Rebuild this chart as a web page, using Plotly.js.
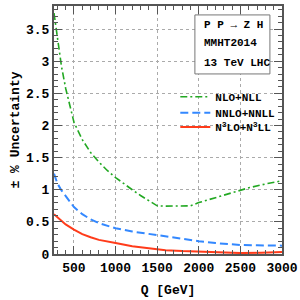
<!DOCTYPE html>
<html>
<head>
<meta charset="utf-8">
<script src="https://cdn.plot.ly/plotly-3.0.1.min.js"></script>
<style>html,body{margin:0;padding:0;background:#fff}#chart{width:300px;height:300px}</style>
</head>
<body>
<div id="chart"></div>
<script>
const seriesNames = ["NLO+NLL", "NNLO+NNLL", "N<sup>3</sup>LO+N<sup>3</sup>LL"];

const qNLO = [260, 300, 350, 400, 500, 600, 700, 800, 900, 1000, 1100, 1200, 1300, 1400, 1500, 1600, 1700, 1800, 1900, 2000, 2200, 2400, 2500, 2600, 2800, 3000];
const uNLO = [3.75, 3.35, 2.92, 2.58, 2.05, 1.78, 1.58, 1.43, 1.30, 1.19, 1.09, 1.00, 0.91, 0.83, 0.75, 0.745, 0.745, 0.745, 0.75, 0.80, 0.88, 0.96, 1.00, 1.03, 1.09, 1.14];

const qNNLO = [260, 300, 350, 400, 500, 600, 700, 800, 1000, 1200, 1400, 1600, 1800, 2000, 2200, 2400, 2500, 2700, 3000];
const uNNLO = [1.25, 1.10, 0.99, 0.90, 0.73, 0.62, 0.54, 0.48, 0.40, 0.35, 0.31, 0.27, 0.23, 0.20, 0.17, 0.15, 0.14, 0.135, 0.13];

const qN3LO = [260, 300, 400, 500, 600, 700, 800, 1000, 1200, 1400, 1600, 1800, 2000, 2250, 2500, 2750, 3000];
const uN3LO = [0.62, 0.57, 0.46, 0.38, 0.31, 0.26, 0.22, 0.17, 0.12, 0.09, 0.06, 0.045, 0.035, 0.022, 0.015, 0.02, 0.03];

const xTickVals = [500, 1000, 1500, 2000, 2500, 3000];
const boxLines = ["P P \u2192 Z H", "MMHT2014", "13 TeV LHC"];

const FONT = "Liberation Mono, Courier New, monospace";

const traces = [
  {x: qNLO, y: uNLO, name: seriesNames[0], mode: "lines", legend: "legend",
   line: {color: "#22a822", width: 1.6, dash: "7px,3px,2px,3px"}},
  {x: qNNLO, y: uNNLO, name: seriesNames[1], mode: "lines", legend: "legend2",
   line: {color: "#3388ff", width: 2, dash: "8px,4px"}},
  {x: qN3LO, y: uN3LO, name: seriesNames[2], mode: "lines", legend: "legend3",
   line: {color: "#ff3b1a", width: 2}}
];

const legendBase = {bgcolor: "rgba(0,0,0,0)", borderwidth: 0, xanchor: "left", yanchor: "middle",
  font: {family: FONT, size: 11, color: "#000", weight: "bold"}};

const axisCommon = {
  showline: true, linecolor: "#555", linewidth: 2, mirror: "allticks",
  ticks: "inside", ticklen: 8, tickwidth: 1, tickcolor: "#555",
  showgrid: true, gridcolor: "#aaa", griddash: "dot", gridwidth: 1,
  zeroline: false,
  tickfont: {family: FONT, size: 13, color: "#000", weight: "bold"}
};

const layout = {
  width: 300, height: 300,
  margin: {l: 54, r: 18, t: 6, b: 46},
  paper_bgcolor: "#fff", plot_bgcolor: "#fff",
  xaxis: Object.assign({}, axisCommon, {
    range: [260, 3000], tickvals: xTickVals,
    minor: {dtick: 100, tick0: 0, ticks: "inside", ticklen: 4, tickcolor: "#555", showgrid: false},
    title: {text: "Q [GeV]", standoff: 10, font: {family: FONT, size: 13, color: "#000", weight: "bold"}}
  }),
  yaxis: Object.assign({}, axisCommon, {
    range: [0, 3.86], dtick: 0.5, tick0: 0,
    minor: {dtick: 0.1, tick0: 0, ticks: "inside", ticklen: 4, tickcolor: "#555", showgrid: false},
    title: {text: "\u00b1 % Uncertainty", standoff: 3, font: {family: FONT, size: 13, color: "#000", weight: "bold"}}
  }),
  showlegend: true,
  legend: Object.assign({}, legendBase, {x: 0.532, y: (254 - 96.7) / 248}),
  legend2: Object.assign({}, legendBase, {x: 0.532, y: (254 - 112.7) / 248}),
  legend3: Object.assign({}, legendBase, {x: 0.532, y: (254 - 127) / 248}),
  shapes: [
    {type: "rect", xref: "paper", yref: "paper", x0: 0.618, x1: 0.947, y0: 0.726, y1: 0.964,
     line: {color: "#777", width: 1}, fillcolor: "#fff", layer: "above"}
  ],
  annotations: boxLines.map((t, i) => ({
    text: t, xref: "paper", yref: "paper", x: 0.648, xanchor: "left",
    y: [0.923, 0.851, 0.770][i], yanchor: "middle", showarrow: false,
    font: {family: FONT, size: 11, color: "#000", weight: "bold"}
  }))
};

Plotly.newPlot("chart", traces, layout, {staticPlot: true, displayModeBar: false});
</script>
</body>
</html>
